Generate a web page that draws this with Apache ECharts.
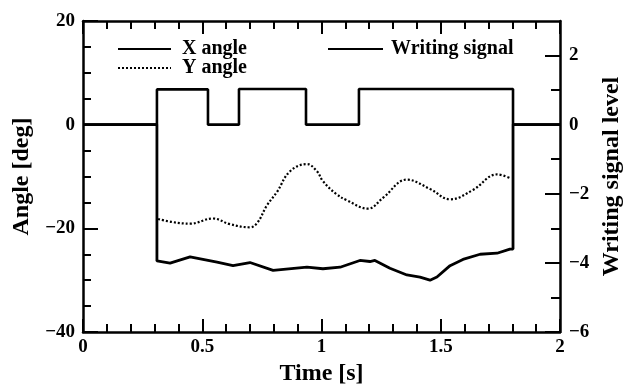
<!DOCTYPE html>
<html>
<head>
<meta charset="utf-8">
<script src="https://cdn.jsdelivr.net/npm/echarts@6/dist/echarts.min.js"></script>
<style>
html,body{margin:0;padding:0;background:#fff;}
#chart{width:624px;height:385px;}
</style>
</head>
<body>
<div id="chart"></div>
<script>
// Data
var xAngleTime = [0, 0.31, 0.31, 0.365, 0.449, 0.562, 0.629, 0.70, 0.797, 0.939, 1.006, 1.078, 1.161, 1.203, 1.224, 1.287, 1.358, 1.413, 1.455, 1.484, 1.539, 1.593, 1.665, 1.736, 1.79, 1.803, 1.803, 2];
var xAngleDeg  = [0, 0, -26.3, -26.7, -25.5, -26.5, -27.2, -26.6, -28.1, -27.5, -27.8, -27.5, -26.2, -26.4, -26.2, -27.7, -29.0, -29.4, -30.0, -29.4, -27.2, -26.0, -25.0, -24.8, -24.0, -24.0, 0, 0];

var yAngleTime = [0.315, 0.377, 0.449, 0.545, 0.616, 0.70, 0.73, 0.771, 0.813, 0.868, 0.939, 0.981, 1.006, 1.06, 1.107, 1.195, 1.258, 1.358, 1.455, 1.539, 1.635, 1.736, 1.79];
var yAngleDeg  = [-18.2, -18.8, -19.1, -18.1, -19.2, -19.8, -19.0, -15.6, -13.0, -9.0, -7.6, -9.0, -10.9, -13.3, -14.6, -16.2, -14.1, -10.6, -12.4, -14.4, -12.6, -9.6, -10.3];

var writeTime  = [0, 0.31, 0.524, 0.654, 0.935, 1.157, 1.803, 2];
var writeLevel = [0, 1.02, 0, 1.03, 0, 1.03, 0, 0];

var xTickLabels = ['0', '0.5', '1', '1.5', '2'];
var leftTickLabels = ['−40', '−20', '0', '20'];
var rightMajorTicks = [-6, -4, -2, 0, 2];
var rightMinorTicks = [-5, -3, -1, 1];

function pairs(a, b) { return a.map(function (v, i) { return [v, b[i]]; }); }

var FONT = 'Liberation Serif';
var chart = echarts.init(document.getElementById('chart'), null, {renderer: 'canvas'});
var axisLine = {show: true, onZero: false, lineStyle: {color: '#000', width: 2.5}};
var noSymbol = {color: 'rgba(0,0,0,0)', borderWidth: 0, opacity: 0};
function legendAt(name, left, top, width, pad) {
  return {
    data: [name], orient: 'vertical', left: left, top: top,
    itemWidth: width, itemHeight: 14, itemStyle: noSymbol,
    textStyle: {fontFamily: FONT, fontSize: 20, fontWeight: 'bold', color: '#000', padding: [0, 0, 0, pad]}
  };
}

var option = {
  backgroundColor: '#fff',
  animation: false,
  textStyle: {fontFamily: FONT, color: '#000'},
  grid: {left: 83, right: 64, top: 21, bottom: 53, containLabel: false, outerBoundsMode: 'none'},
  legend: [
    legendAt('X angle', 112, 34, 53, 6),
    legendAt('Y angle', 112, 53, 53, 6),
    legendAt('Writing signal', 322, 34, 55, 3)
  ],
  xAxis: [
    {
      type: 'value', min: 0, max: 2, interval: 0.5, position: 'bottom',
      axisLine: axisLine,
      axisTick: {inside: true, length: 13, lineStyle: {color: '#000', width: 2}},
      minorTick: {show: true, splitNumber: 5, length: 8, lineStyle: {color: '#000', width: 2}},
      splitLine: {show: false},
      axisLabel: {margin: 6, fontSize: 19, fontWeight: 'bold', color: '#000', fontFamily: FONT,
        formatter: function (v) { return xTickLabels[Math.round(v * 2)]; }},
      name: 'Time [s]', nameLocation: 'middle', nameGap: 26,
      nameTextStyle: {fontSize: 24, fontWeight: 'bold', color: '#000', fontFamily: FONT}
    },
    {
      type: 'value', min: 0, max: 2, interval: 0.5, position: 'top',
      axisLine: axisLine,
      axisTick: {inside: true, length: 13, lineStyle: {color: '#000', width: 2}},
      minorTick: {show: true, splitNumber: 5, length: 8, lineStyle: {color: '#000', width: 2}},
      splitLine: {show: false},
      axisLabel: {show: false}
    }
  ],
  yAxis: [
    {
      type: 'value', min: -40, max: 20, interval: 20, position: 'left',
      axisLine: axisLine,
      axisTick: {inside: true, length: 15, lineStyle: {color: '#000', width: 2}},
      minorTick: {show: true, splitNumber: 4, length: 8, lineStyle: {color: '#000', width: 2}},
      splitLine: {show: false},
      axisLabel: {margin: 8, fontSize: 19, fontWeight: 'bold', color: '#000', fontFamily: FONT,
        formatter: function (v) { return leftTickLabels[Math.round((v + 40) / 20)]; }},
      name: 'Angle [deg]', nameLocation: 'middle', nameGap: 49,
      nameTextStyle: {fontSize: 24, fontWeight: 'bold', color: '#000', fontFamily: FONT}
    },
    {
      type: 'value', min: -6, max: 3, position: 'right',
      axisLine: axisLine,
      axisTick: {inside: true, length: 15, customValues: rightMajorTicks, lineStyle: {color: '#000', width: 2}},
      splitLine: {show: false},
      axisLabel: {margin: 9, fontSize: 19, fontWeight: 'bold', color: '#000', fontFamily: FONT,
        customValues: rightMajorTicks,
        formatter: function (v) { return String(v).replace('-', '−'); }},
      name: 'Writing signal level', nameLocation: 'middle', nameGap: 37,
      nameTextStyle: {fontSize: 24, fontWeight: 'bold', color: '#000', fontFamily: FONT}
    },
    {
      type: 'value', min: -6, max: 3, position: 'right',
      axisLine: {show: false, onZero: false},
      axisTick: {inside: true, length: 9, customValues: rightMinorTicks, lineStyle: {color: '#000', width: 2}},
      splitLine: {show: false},
      axisLabel: {show: false}
    }
  ],
  series: [
    {
      name: 'X angle', type: 'line', xAxisIndex: 0, yAxisIndex: 0,
      data: pairs(xAngleTime, xAngleDeg), smooth: false,
      symbol: 'none', color: '#000',
      lineStyle: {color: '#000', width: 2.8}
    },
    {
      name: 'Y angle', type: 'line', xAxisIndex: 0, yAxisIndex: 0,
      data: pairs(yAngleTime, yAngleDeg), smooth: 0.4,
      symbol: 'none', color: '#000',
      lineStyle: {color: '#000', width: 2.2, type: [2, 2]}
    },
    {
      name: 'Writing signal', type: 'line', xAxisIndex: 0, yAxisIndex: 1,
      data: pairs(writeTime, writeLevel), step: 'end',
      symbol: 'none', color: '#000',
      lineStyle: {color: '#000', width: 2.6}
    }
  ]
};
chart.setOption(option);
</script>
</body>
</html>
